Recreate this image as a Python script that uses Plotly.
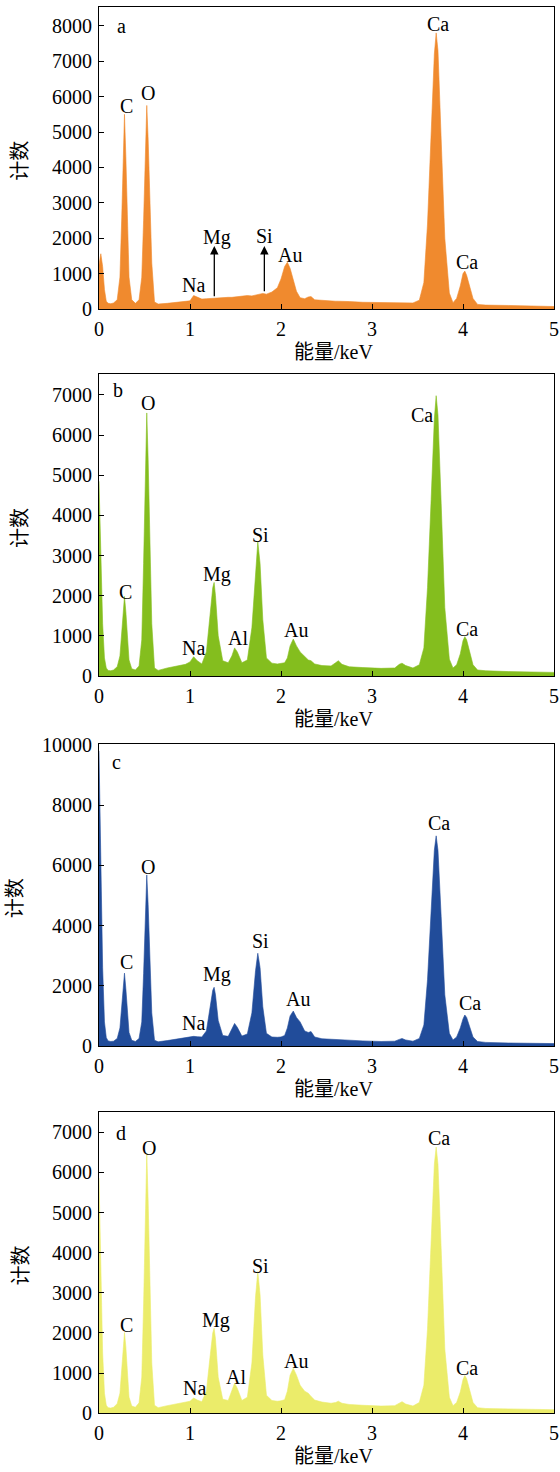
import plotly.graph_objects as go

# Energy grid (keV) shared by all four spectra
energy = [0.00, 0.02, 0.04, 0.06, 0.08, 0.10, 0.13, 0.16, 0.20, 0.23,
          0.25, 0.265, 0.28, 0.295, 0.31, 0.33, 0.36, 0.40, 0.44, 0.47,
          0.49, 0.51, 0.525, 0.54, 0.56, 0.58, 0.61, 0.65, 0.75, 0.85,
          0.95, 1.00, 1.04, 1.08, 1.13, 1.18, 1.22, 1.25, 1.265, 1.28,
          1.31, 1.36, 1.42, 1.46, 1.49, 1.52, 1.57, 1.63, 1.68, 1.72,
          1.745, 1.77, 1.80, 1.84, 1.90, 1.96, 2.00, 2.04, 2.07, 2.10,
          2.135, 2.17, 2.21, 2.26, 2.30, 2.33, 2.37, 2.45, 2.55, 2.60,
          2.63, 2.67, 2.75, 2.90, 3.10, 3.25, 3.30, 3.33, 3.37, 3.45,
          3.52, 3.57, 3.61, 3.65, 3.685, 3.705, 3.725, 3.76, 3.80, 3.85,
          3.89, 3.93, 3.97, 4.00, 4.02, 4.04, 4.07, 4.11, 4.16, 4.25,
          4.50, 4.75, 5.00]

counts_a = [1250, 1560, 1200, 550, 220, 160, 150, 170, 260, 900,
            2600, 4300, 5500, 4300, 2500, 900, 260, 160, 260, 900,
            2500, 4900, 5750, 4800, 3000, 1300, 200, 140, 160, 190,
            210, 230, 380, 330, 280, 290, 300, 300, 310, 300,
            310, 320, 330, 330, 340, 350, 360, 380, 370, 400,
            410, 430, 440, 420, 480, 600, 850, 1200, 1320, 1150,
            850, 500, 320, 290, 340, 350, 260, 240, 230, 220,
            220, 210, 210, 190, 180, 170, 170, 170, 165, 170,
            250, 750, 2400, 5000, 7200, 7800, 7300, 4800, 2000, 450,
            180, 300, 650, 1000, 1070, 950, 650, 300, 130, 110,
            100, 90, 70]

counts_b = [4850, 3200, 1300, 450, 200, 140, 130, 150, 230, 500,
            1100, 1600, 1980, 1600, 1000, 400, 180, 150, 250, 900,
            2800, 5500, 6550, 5400, 3300, 1300, 200, 140, 200, 240,
            290, 350, 480, 380, 300, 600, 1500, 2200, 2330, 2000,
            1000, 380, 330, 500, 700, 600, 330, 400, 1200, 2700,
            3340, 2800, 1400, 450, 320, 300, 310, 330, 450, 750,
            920, 750, 600, 480, 400, 380, 300, 260, 250, 330,
            380, 290, 230, 210, 190, 200, 290, 320, 260, 200,
            280, 700, 2200, 4400, 6400, 6980, 6500, 4300, 1700, 420,
            200, 280, 550, 880, 980, 900, 600, 280, 150, 130,
            110, 100, 90]

counts_c = [9800, 6500, 2600, 800, 280, 170, 150, 160, 250, 600,
            1300, 1900, 2420, 1900, 1150, 450, 190, 150, 250, 800,
            2400, 4800, 5680, 4700, 2900, 1100, 190, 140, 180, 220,
            260, 280, 320, 310, 300, 500, 1250, 1850, 1950, 1700,
            850, 350, 320, 550, 750, 620, 330, 400, 1100, 2500,
            3080, 2600, 1300, 420, 300, 290, 300, 350, 600, 1000,
            1160, 950, 800, 500, 450, 480, 300, 240, 220, 210,
            210, 200, 190, 170, 150, 160, 220, 250, 200, 160,
            250, 700, 2200, 4400, 6500, 6980, 6500, 4300, 1700, 420,
            200, 300, 600, 900, 1030, 950, 650, 300, 150, 120,
            100, 90, 80]

counts_d = [5860, 3800, 1500, 500, 200, 140, 130, 150, 240, 500,
            1100, 1650, 2010, 1650, 1000, 400, 180, 150, 260, 900,
            2700, 5400, 6470, 5300, 3200, 1250, 200, 140, 190, 230,
            270, 300, 380, 330, 290, 550, 1400, 2000, 2120, 1850,
            900, 350, 320, 550, 750, 620, 320, 400, 1250, 2900,
            3530, 2950, 1450, 450, 320, 300, 310, 340, 550, 950,
            1120, 950, 700, 550, 500, 420, 330, 280, 250, 270,
            300, 250, 220, 200, 180, 190, 260, 290, 230, 180,
            270, 700, 2100, 4200, 6200, 6630, 6200, 4100, 1600, 400,
            190, 270, 530, 840, 940, 860, 580, 270, 140, 120,
            110, 100, 90]

panel_letters = ["a", "b", "c", "d"]
colors = ["#F08A2E", "#84BE1E", "#214C9A", "#EBEC6A"]
y_max = [8540, 7520, 10020, 7510]
y_dtick = [1000, 1000, 2000, 1000]
x_ticks = [0, 1, 2, 3, 4, 5]

# element labels: (text, energy, count)
labels_a = [("a", 0.25, 8000), ("C", 0.297, 5730), ("O", 0.535, 6090),
            ("Na", 1.037, 680), ("Mg", 1.30, 2010), ("Si", 1.824, 2060),
            ("Au", 2.10, 1525), ("Ca", 3.73, 8050), ("Ca", 4.04, 1340)]
labels_b = [("b", 0.21, 7130), ("C", 0.286, 2100), ("O", 0.54, 6800),
            ("Na", 1.037, 690), ("Mg", 1.293, 2520), ("Al", 1.53, 940),
            ("Si", 1.77, 3520), ("Au", 2.165, 1150), ("Ca", 3.546, 6510),
            ("Ca", 4.047, 1160)]
labels_c = [("c", 0.193, 9440), ("C", 0.297, 2800), ("O", 0.535, 5960),
            ("Na", 1.037, 750), ("Mg", 1.30, 2360), ("Si", 1.777, 3500),
            ("Au", 2.19, 1550), ("Ca", 3.74, 7400), ("Ca", 4.077, 1440)]
labels_d = [("d", 0.242, 6980), ("C", 0.297, 2200), ("O", 0.553, 6610),
            ("Na", 1.044, 640), ("Mg", 1.286, 2310), ("Al", 1.51, 900),
            ("Si", 1.77, 3670), ("Au", 2.17, 1300), ("Ca", 3.74, 6860),
            ("Ca", 4.04, 1140)]
# arrows in panel a: (energy, tail count, head count)
arrows_a = [(1.267, 320, 1780), (1.817, 460, 1780)]

series = [counts_a, counts_b, counts_c, counts_d]
labels = [labels_a, labels_b, labels_c, labels_d]

W, H = 560, 1472
# pixel layout of plot areas (top, bottom)
px_left, px_right = 99, 554
px_rows = [(6.7, 309), (374, 676), (744.3, 1046), (1111.7, 1413.3)]

SERIF = "Liberation Serif, Times New Roman, serif"
CJK = "Liberation Serif, Noto Sans CJK SC, serif"
FS = 20

fig = go.Figure()
annotations = []
layout = dict(width=W, height=H, margin=dict(l=0, r=0, t=0, b=0, autoexpand=False),
              paper_bgcolor="white", plot_bgcolor="white", showlegend=False)

for i in range(4):
    xa = "x" if i == 0 else f"x{i+1}"
    ya = "y" if i == 0 else f"y{i+1}"
    top, bot = px_rows[i]
    fig.add_trace(go.Scatter(x=energy, y=series[i], mode="lines",
                             fill="tozeroy", fillcolor=colors[i],
                             line=dict(color=colors[i], width=0.6),
                             xaxis=xa, yaxis=ya, hoverinfo="skip"))
    axis_common = dict(showline=True, linecolor="black", linewidth=1,
                       mirror=True, ticks="inside", ticklen=5,
                       tickcolor="black", tickwidth=1, showgrid=False,
                       zeroline=False, automargin=False,
                       tickfont=dict(family=SERIF, size=FS, color="black"))
    layout["xaxis" if i == 0 else f"xaxis{i+1}"] = dict(
        axis_common, domain=[px_left / W, px_right / W], range=[0, 5],
        tickvals=x_ticks, anchor=ya, ticklabelstandoff=2)
    layout["yaxis" if i == 0 else f"yaxis{i+1}"] = dict(
        axis_common, domain=[1 - bot / H, 1 - top / H],
        range=[0, y_max[i]], dtick=y_dtick[i], tick0=0, anchor=xa,
        tickformat="d", ticklabelstandoff=2)
    for (t, e, c) in labels[i]:
        annotations.append(dict(x=e, y=c, xref=xa, yref=ya, text=t,
                                showarrow=False,
                                font=dict(family=SERIF, size=FS, color="black")))
    # axis titles
    annotations.append(dict(x=(px_left + px_right) / 2 / W + 0.012,
                            y=1 - (bot + 43) / H, xref="paper", yref="paper",
                            xanchor="center", yanchor="middle",
                            text="能量/keV", showarrow=False,
                            font=dict(family=CJK, size=20, color="black")))
    annotations.append(dict(x=(15 if i == 2 else 20) / W,
                            y=1 - ((top + bot) / 2 + 3) / H,
                            xref="paper", yref="paper", text="计数",
                            xanchor="center", yanchor="middle",
                            textangle=-90, showarrow=False,
                            font=dict(family=CJK, size=20, color="black")))

for (e, c0, c1) in arrows_a:
    annotations.append(dict(x=e, y=c1, ax=e, ay=c0, xref="x", yref="y",
                            axref="x", ayref="y", text="", showarrow=True,
                            arrowhead=2, arrowsize=1.3, arrowwidth=1.3,
                            arrowcolor="black"))

layout["annotations"] = annotations
fig.update_layout(**layout)
fig.write_html("out.html",
               config={"displayModeBar": False},
               post_script="document.body.style.margin='0px';"
                           "document.body.style.overflow='hidden';")
